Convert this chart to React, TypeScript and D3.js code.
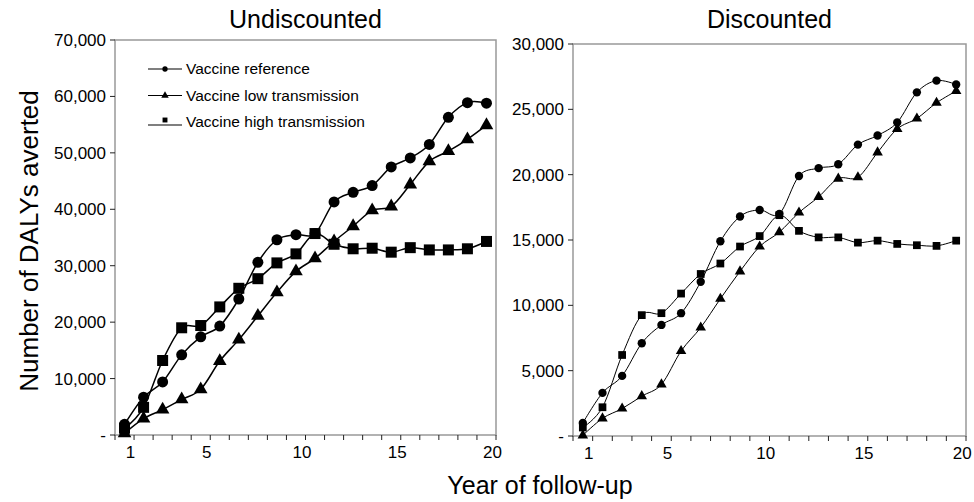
import React from 'react'
import * as d3 from 'd3'

const W = 974
const H = 502
const FONT = '"Liberation Sans", Arial, sans-serif'

const years = d3.range(1, 21)
const yearLabels = [1, 5, 10, 15, 20]

const seriesNames = ['Vaccine reference', 'Vaccine low transmission', 'Vaccine high transmission']

// Undiscounted
const undiscRef = [1900, 6700, 9400, 14200, 17400, 19300, 24100, 30600, 34600, 35500, 35700, 41300, 43000, 44200, 47500, 49100, 51500, 56300, 58900, 58800]
const undiscLow = [300, 2900, 4500, 6300, 8100, 13100, 16900, 21100, 25300, 29000, 31300, 34300, 37000, 39800, 40500, 44400, 48500, 50300, 52400, 54900]
const undiscHigh = [1200, 4900, 13200, 19000, 19400, 22700, 26000, 27700, 30500, 32100, 35700, 33800, 33000, 33100, 32400, 33200, 32800, 32800, 33000, 34300]
const undiscTicks = [0, 10000, 20000, 30000, 40000, 50000, 60000, 70000]

// Discounted
const discRef = [1000, 3300, 4600, 7100, 8500, 9400, 11800, 14900, 16800, 17300, 17000, 19900, 20500, 20800, 22300, 23000, 24000, 26300, 27200, 26900]
const discLow = [50, 1350, 2100, 3050, 3950, 6500, 8300, 10500, 12600, 14500, 15600, 17100, 18300, 19700, 19800, 21700, 23500, 24300, 25500, 26400]
const discHigh = [650, 2200, 6200, 9250, 9400, 10900, 12400, 13200, 14500, 15300, 16900, 15700, 15200, 15200, 14800, 14950, 14700, 14600, 14550, 14950]
const discTicks = [0, 5000, 10000, 15000, 20000, 25000, 30000]

const symbols = [d3.symbolCircle, d3.symbolTriangle, d3.symbolSquare]

const fmt = (v: number) => (v === 0 ? '-' : d3.format(',')(v))

type PanelProps = {
  title: string
  left: number
  right: number
  top: number
  bottom: number
  ticks: number[]
  data: number[][]
  markerSizes: number[]
  lineWidth: number
  legend?: boolean
}

const Panel = ({ title, left, right, top, bottom, ticks, data, markerSizes, lineWidth, legend }: PanelProps) => {
  const x = d3.scaleLinear().domain([0.5, 20.5]).range([left, right])
  const y = d3.scaleLinear().domain([0, d3.max(ticks) as number]).range([bottom, top])
  const line = d3
    .line<number>()
    .x((d, i) => x(years[i]))
    .y(d => y(d))
    .curve(d3.curveCatmullRom.alpha(0))
  const boundaries = d3.range(0.5, 21, 1)

  return (
    <g>
      <text x={(left + right) / 2} y={28} textAnchor="middle" fontSize={25} fontFamily={FONT}>
        {title}
      </text>
      <rect x={left} y={top} width={right - left} height={bottom - top} fill="none" stroke="#999" strokeWidth={1.5} />
      {ticks.map(t => (
        <g key={t}>
          <line x1={left - 5} x2={left} y1={y(t)} y2={y(t)} stroke="#222" />
          <text x={left - 9} y={y(t)} dy="0.35em" textAnchor="end" fontSize={17} fontFamily={FONT}>
            {fmt(t)}
          </text>
        </g>
      ))}
      {boundaries.map(b => (
        <line key={b} x1={x(b)} x2={x(b)} y1={bottom} y2={bottom + 5} stroke="#222" />
      ))}
      {yearLabels.map(v => (
        <text key={v} x={x(v) + 6} y={bottom + 23} textAnchor="middle" fontSize={17} fontFamily={FONT}>
          {v}
        </text>
      ))}
      {data.map((s, si) => (
        <g key={si}>
          <path d={line(s) || ''} fill="none" stroke="#000" strokeWidth={lineWidth} />
          {s.map((v, i) => (
            <path
              key={i}
              transform={`translate(${x(years[i])},${y(v)})`}
              d={d3.symbol().type(symbols[si]).size(markerSizes[si])() || ''}
              fill="#000"
            />
          ))}
        </g>
      ))}
      {legend &&
        seriesNames.map((name, i) => {
          const ly = 69 + i * 26.5
          return (
            <g key={name}>
              <line x1={148} x2={182} y1={ly + (i === 2 ? 3 : 0)} y2={ly + (i === 2 ? 3 : 0)} stroke="#000" strokeWidth={1.2} />
              <path
                transform={`translate(165,${ly - (i === 2 ? 2 : 0)})`}
                d={d3.symbol().type(symbols[i]).size(i === 0 ? 22 : 24)() || ''}
                fill="#000"
              />
              <text x={186} y={ly} dy="0.35em" fontSize={15.5} fontFamily={FONT}>
                {name}
              </text>
            </g>
          )
        })}
    </g>
  )
}

const App = () => (
  <svg width={W} height={H} style={{ position: 'absolute', left: 0, top: 0, background: '#fff' }}>
    <Panel
      title="Undiscounted"
      left={115}
      right={496}
      top={40}
      bottom={435}
      ticks={undiscTicks}
      data={[undiscRef, undiscLow, undiscHigh]}
      markerSizes={[95, 80, 121]}
      lineWidth={1.5}
      legend
    />
    <Panel
      title="Discounted"
      left={573}
      right={966}
      top={44}
      bottom={436}
      ticks={discTicks}
      data={[discRef, discLow, discHigh]}
      markerSizes={[55, 48, 60]}
      lineWidth={1}
    />
    <text
      transform="translate(38,241) rotate(-90)"
      textAnchor="middle"
      fontSize={26}
      fontFamily={FONT}
    >
      Number of DALYs averted
    </text>
    <text x={540} y={494} textAnchor="middle" fontSize={25} fontFamily={FONT}>
      Year of follow-up
    </text>
  </svg>
)

export default App
